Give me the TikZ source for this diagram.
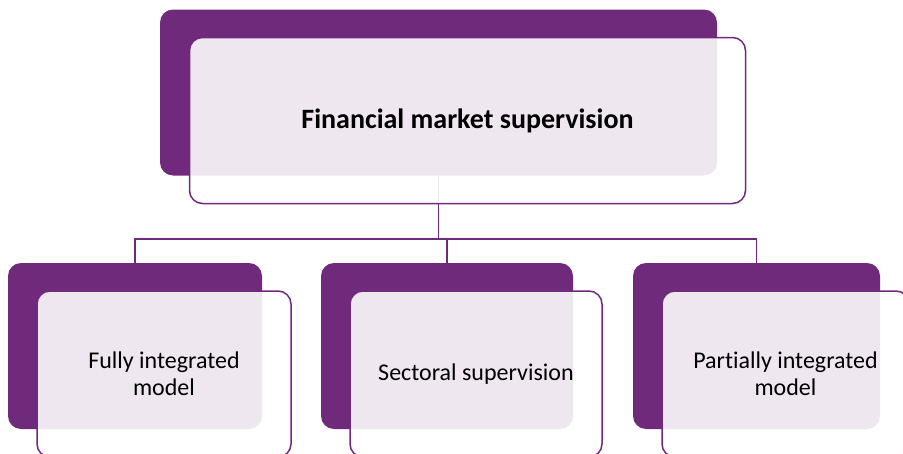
\documentclass[tikz,border=0pt]{standalone}
\usepackage{fontspec}
\setmainfont{Carlito}[Ligatures=NoCommon]
\usetikzlibrary{positioning}
\definecolor{plum}{RGB}{112,42,123}
\tikzset{
	back/.style={
		fill=plum,
		rounded corners=13pt,
		minimum height=166pt,
		inner sep=0pt
	},
	front/.style={
		draw=plum,
		line width=1.5pt,
		fill=white,
		fill opacity=.89,
		text opacity=1,
		rounded corners=13pt,
		minimum height=166pt,
		inner sep=0pt,
		align=center,
		xshift=29pt,
		yshift=-28pt,
		font=\fontsize{24}{27}\selectfont
	},
	link/.style={
		draw=plum,
		line width=1.6pt
	}
}

\begin{document}
\begin{tikzpicture}[x=1pt, y=-1pt]
\useasboundingbox (0,0) rectangle (903,453);

\node[back, minimum width=557pt] (topback) at (438.5,92.5) {};
\node[back, minimum width=254pt] (fullback) at (135,346) {};
\node[back, minimum width=252pt] (sectback) at (447,346) {};
\node[back, minimum width=247pt] (partback) at (756.5,346) {};

% ---
% Connectors
% ---
\draw[link] (topback.south) -- ++(0,63) coordinate (bus);
\draw[link] (fullback.north) |- (bus) -| (partback.north);
\draw[link] (sectback.north) -- (sectback.north |- bus);

% ---
% Front boxes
% ---
\node[front, minimum width=556pt, font=\bfseries\fontsize{28}{33}\selectfont] (top) at (topback) {Financial market supervision};
\node[front, minimum width=254pt] (full) at (fullback) {Fully integrated\\model};
\node[front, minimum width=252pt] (sect) at (sectback) {Sectoral supervision};
\node[front, minimum width=247pt] (part) at (partback) {Partially integrated\\model};
\end{tikzpicture}
\end{document}
